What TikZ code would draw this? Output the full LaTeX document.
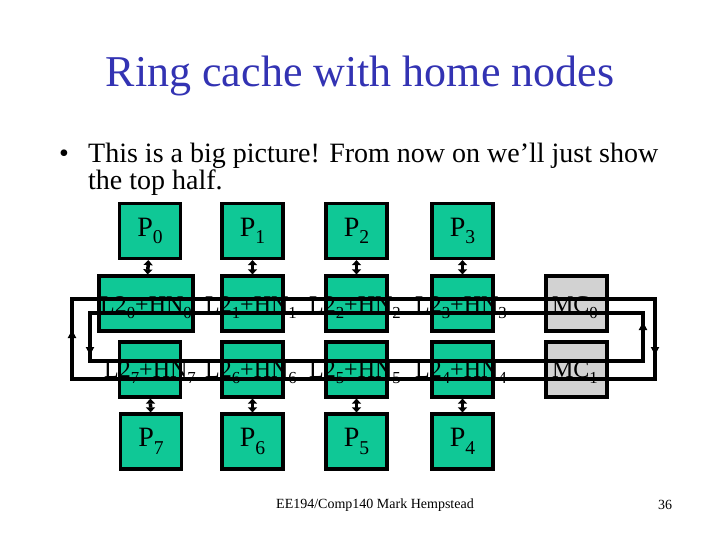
\documentclass[tikz,border=0pt]{standalone}
\usepackage{fontspec}
\setmainfont{Liberation Serif}
\usepackage{tikz}
\usetikzlibrary{arrows.meta}
\definecolor{AzulTitulo}{RGB}{51,51,179}
\definecolor{VerdeCache}{RGB}{15,200,150}
\definecolor{GrisMemoria}{RGB}{210,210,210}
\newcommand{\idx}[1]{\raisebox{-0.27em}{\scalebox{0.7}{#1}}}

\begin{document}
\begin{tikzpicture}[x=1pt,y=-1pt,>=Latex,
    caja/.style={draw,line width=3.2pt,fill=VerdeCache,minimum width=61pt,minimum height=55pt,inner sep=0pt},
    proc/.style={caja,font=\fontsize{28}{32}\selectfont},
    etiqueta/.style={anchor=base,inner sep=0pt,font=\fontsize{24}{28}\selectfont},
    enlace/.style={{Triangle[length=5pt,width=9pt]}-{Triangle[length=5pt,width=9pt]},line width=3.5pt},
    anillo/.style={line width=3.5pt},
    flecha/.style={-{Triangle[length=8pt,width=8pt]},line width=4.5pt}]
  \useasboundingbox (0,0) rectangle (720,540);

  % titulo y texto
  \node[anchor=base,inner sep=0pt,text=AzulTitulo,font=\fontsize{44}{48}\selectfont] (titulo) at (360,87) {Ring cache with home nodes};
  \node[anchor=base,inner sep=0pt,font=\fontsize{28}{32}\selectfont] (vineta) at (64,163) {\textbullet};
  \node[anchor=base west,inner sep=0pt,font=\fontsize{28}{32}\selectfont] (linea1) at (88,163) {This is a big picture! From now on we’ll just show};
  \node[anchor=base west,inner sep=0pt,font=\fontsize{28}{32}\selectfont] (linea2) at (88,190) {the top half.};

  % procesadores arriba
  \node[proc] (p0) at (150,231) {P\idx{0}};
  \node[proc] (p1) at (252.5,231) {P\idx{1}};
  \node[proc] (p2) at (356.5,231) {P\idx{2}};
  \node[proc] (p3) at (462.5,231) {P\idx{3}};

  % caches fila 1
  \node[caja,minimum width=94pt] (c0) at (146,303.5) {};
  \node[caja] (c1) at (252.5,303.5) {};
  \node[caja] (c2) at (356.5,303.5) {};
  \node[caja] (c3) at (462.5,303.5) {};
  \node[caja,fill=GrisMemoria] (mc0) at (576.5,303.5) {};

  % caches fila 2
  \node[caja] (c7) at (150,369.5) {};
  \node[caja] (c6) at (252.5,369.5) {};
  \node[caja] (c5) at (356.5,369.5) {};
  \node[caja] (c4) at (462.5,369.5) {};
  \node[caja,fill=GrisMemoria] (mc1) at (576.5,369.5) {};

  % procesadores abajo
  \node[proc] (p7) at (151,441.5) {P\idx{7}};
  \node[proc] (p6) at (252.5,441.5) {P\idx{6}};
  \node[proc] (p5) at (356.5,441.5) {P\idx{5}};
  \node[proc] (p4) at (462.5,441.5) {P\idx{4}};

  % textos de las caches
  \node[etiqueta] (t0) at (146,312) {L2\idx{0}+HN\idx{0}};
  \node[etiqueta] (t1) at (251,312) {L2\idx{1}+HN\idx{1}};
  \node[etiqueta] (t2) at (355,312) {L2\idx{2}+HN\idx{2}};
  \node[etiqueta] (t3) at (461,312) {L2\idx{3}+HN\idx{3}};
  \node[etiqueta] (tm0) at (575,312) {MC\idx{0}};
  \node[etiqueta] (t7) at (150,377.5) {L2\idx{7}+HN\idx{7}};
  \node[etiqueta] (t6) at (251,377.5) {L2\idx{6}+HN\idx{6}};
  \node[etiqueta] (t5) at (355,377.5) {L2\idx{5}+HN\idx{5}};
  \node[etiqueta] (t4) at (461,377.5) {L2\idx{4}+HN\idx{4}};
  \node[etiqueta] (tm1) at (575,377.5) {MC\idx{1}};

  % enlaces procesador-cache
  \draw[enlace] (p0) -- (c0);
  \draw[enlace] (p1) -- (c1);
  \draw[enlace] (p2) -- (c2);
  \draw[enlace] (p3) -- (c3);
  \draw[enlace] (c7) -- (p7);
  \draw[enlace] (c6) -- (p6);
  \draw[enlace] (c5) -- (p5);
  \draw[enlace] (c4) -- (p4);

  % anillos
  \coordinate (ext1) at (72,299);
  \coordinate (ext2) at (655,379);
  \coordinate (int1) at (90,313);
  \coordinate (int2) at (643,361);
  \draw[anillo] (ext1) rectangle (ext2);
  \draw[anillo] (int1) rectangle (int2);

  % sentido de giro
  \coordinate (a1) at (72,361);
  \coordinate (a2) at (72,330);
  \coordinate (b1) at (90,319);
  \coordinate (b2) at (90,355);
  \coordinate (d1) at (643,352);
  \coordinate (d2) at (643,322);
  \coordinate (e1) at (655,324);
  \coordinate (e2) at (655,355);
  \draw[flecha] (a1) -- (a2);
  \draw[flecha] (b1) -- (b2);
  \draw[flecha] (d1) -- (d2);
  \draw[flecha] (e1) -- (e2);

  % pie
  \node[font=\fontsize{14}{16}\selectfont] (pie) at (375,505) {EE194/Comp140 Mark Hempstead};
  \node[font=\fontsize{14}{16}\selectfont] (pagina) at (665,505) {36};
\end{tikzpicture}
\end{document}
